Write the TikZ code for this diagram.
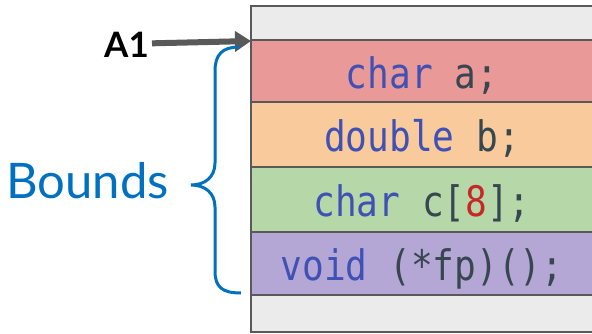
\documentclass[tikz,border=0pt]{standalone}
\usepackage{fontspec}
\setmainfont{Lato}
\newfontfamily\codefont[FakeStretch=0.86]{DejaVu Sans Mono}
\usetikzlibrary{positioning, arrows.meta}

\definecolor{linegray}{HTML}{595959}
\definecolor{slot}{HTML}{EBEBEB}
\definecolor{redrow}{HTML}{EA9999}
\definecolor{orangerow}{HTML}{F9CB9C}
\definecolor{greenrow}{HTML}{B6D7A8}
\definecolor{purplerow}{HTML}{B4A7D6}
\definecolor{kwblue}{HTML}{3F51B5}
\definecolor{codegray}{HTML}{37474F}
\definecolor{numred}{HTML}{C62828}
\definecolor{bracecol}{HTML}{0070C0}
\newcommand{\kw}[1]{\textcolor{kwblue}{#1}}

\begin{document}
\begin{tikzpicture}[x=1pt, y=1pt,
	cell/.style={draw=linegray, line width=2pt, outer sep=0pt, inner sep=0pt, minimum width=342pt,
		text=codegray, font=\codefont\fontsize{42}{42}\selectfont, text height=34pt, text depth=0pt}]
	\useasboundingbox (0,0) rectangle (592,333);
	\clip (0,0) rectangle (592,333);
	% memory layout of the struct
	\node[cell, fill=slot, minimum height=34pt, anchor=north] (top) at (422,327) {};
	\node[cell, fill=redrow, minimum height=62pt, below=0pt of top] (ra) {\kw{char} a;};
	\node[cell, fill=orangerow, minimum height=65pt, below=0pt of ra] (rb) {\kw{double} b;};
	\node[cell, fill=greenrow, minimum height=65pt, below=0pt of rb] (rc) {\kw{char} c[\textcolor{numred}{8}];};
	\node[cell, fill=purplerow, minimum height=63pt, below=0pt of rc] (rfp) {\kw{void} (*fp)();};
	\node[cell, fill=slot, minimum height=37pt, below=0pt of rfp] (bottom) {};
	% start address
	\node[anchor=base east, inner sep=0pt, font=\fontsize{35}{35}\selectfont\bfseries] (a1) at (149,276) {A1};
	\draw[draw=linegray, line width=6pt, -{Triangle[length=16pt, width=20pt]}]
		([xshift=3pt, yshift=1pt]a1.east) -- ([yshift=-1pt]ra.north west);
	% extent of the object
	\node[anchor=base east, inner sep=0pt, text=bracecol, font=\fontsize{49}{49}\selectfont] (bounds) at (169,135) {Bounds};
	\coordinate (btop) at (239,286);
	\coordinate (bend) at (241,40);
	\draw[bracecol, line width=3pt] (btop) .. controls (222,286) and (215,278) .. (215,262) -- (215,170)
		.. controls (215,156) and (205,148) .. (191,148) .. controls (205,148) and (215,140) .. (215,126)
		-- (215,62) .. controls (215,46) and (222,40) .. (bend);
\end{tikzpicture}
\end{document}
